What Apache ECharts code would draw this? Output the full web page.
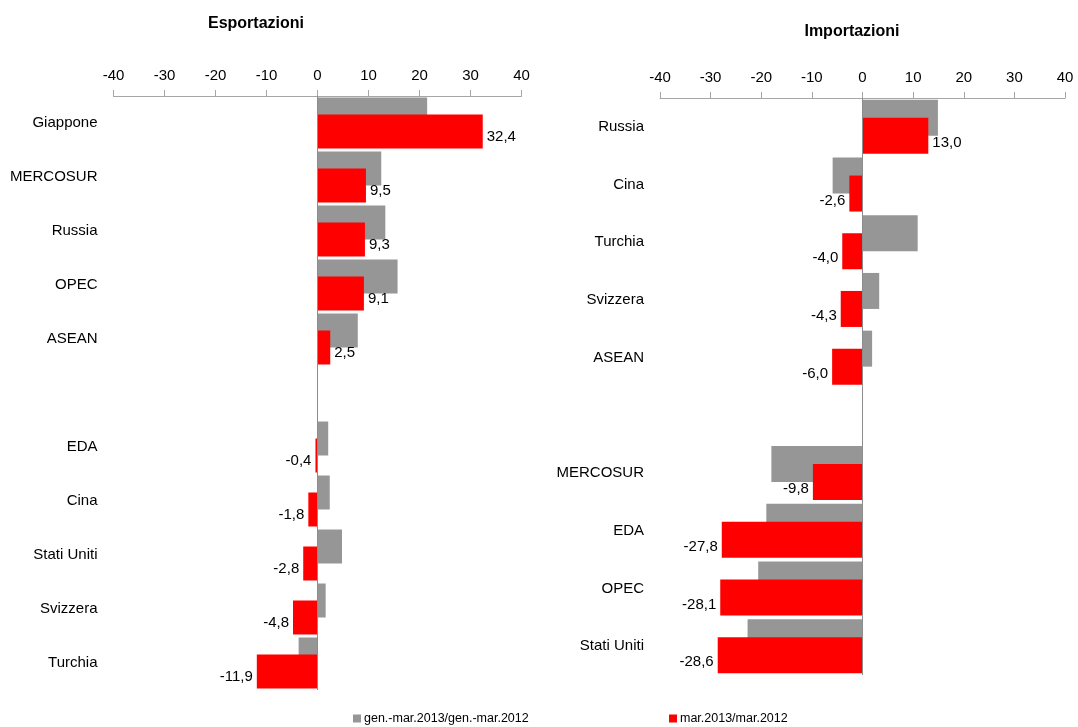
<!DOCTYPE html>
<html>
<head>
<meta charset="utf-8">
<script src="https://cdn.jsdelivr.net/npm/echarts@6/dist/echarts.min.js"></script>
<style>
html, body { margin: 0; padding: 0; background: #fff; }
#chart { width: 1078px; height: 727px; }
</style>
</head>
<body>
<div id="chart"></div>
<script>
// categorie (stringa vuota = spazio tra i due gruppi)
var expCategories = ['Giappone', 'MERCOSUR', 'Russia', 'OPEC', 'ASEAN', '', 'EDA', 'Cina', 'Stati Uniti', 'Svizzera', 'Turchia'];
var impCategories = ['Russia', 'Cina', 'Turchia', 'Svizzera', 'ASEAN', '', 'MERCOSUR', 'EDA', 'OPEC', 'Stati Uniti'];

// gen.-mar.2013/gen.-mar.2012 (grigio)
var expYear = [21.5, 12.5, 13.3, 15.7, 7.9, null, 2.1, 2.4, 4.8, 1.6, -3.7];
var impYear = [14.9, -5.9, 10.9, 3.3, 1.9, null, -18.0, -19.0, -20.6, -22.7];

// mar.2013/mar.2012 (rosso)
var expMonth = [32.4, 9.5, 9.3, 9.1, 2.5, null, -0.4, -1.8, -2.8, -4.8, -11.9];
var impMonth = [13.0, -2.6, -4.0, -4.3, -6.0, null, -9.8, -27.8, -28.1, -28.6];

var xTicks = [-40, 40, 10]; // min, max, passo

var nameYear = 'gen.-mar.2013/gen.-mar.2012';
var nameMonth = 'mar.2013/mar.2012';

var FONT = "'Liberation Sans', Arial, sans-serif";

var chart = echarts.init(document.getElementById('chart'));

function fmt(v) {
    return v.toFixed(1).replace('.', ',');
}

function redData(arr, dy) {
    return arr.map(function (v) {
        if (v === null) return '-';
        return {
            value: v,
            label: {
                position: v < 0 ? 'left' : 'right',
                offset: [0, dy]
            }
        };
    });
}

function xAxisCfg(gridIndex) {
    return {
        type: 'value',
        gridIndex: gridIndex,
        position: 'top',
        min: xTicks[0],
        max: xTicks[1],
        interval: xTicks[2],
        axisLine: { show: true, onZero: false, lineStyle: { color: '#a6a6a6', width: 1 } },
        axisTick: { show: true, length: 6, lineStyle: { color: '#a6a6a6' } },
        splitLine: { show: false },
        axisLabel: { color: '#000', fontSize: 15, fontFamily: FONT, margin: 13 }
    };
}

function yAxisCfg(gridIndex, cats) {
    return {
        type: 'category',
        gridIndex: gridIndex,
        data: cats,
        inverse: true,
        axisLine: { show: false },
        axisTick: { show: false },
        splitLine: { show: false },
        axisLabel: { color: '#000', fontSize: 15, fontFamily: FONT, margin: 16 }
    };
}

function greySeries(idx, data, bw) {
    return {
        name: nameYear,
        type: 'bar',
        xAxisIndex: idx,
        yAxisIndex: idx,
        data: data.map(function (v) { return v === null ? '-' : v; }),
        barWidth: bw,
        barGap: '-50%',
        itemStyle: { color: '#969696' },
        silent: true
    };
}

function redSeries(idx, data, bw, dy) {
    return {
        name: nameMonth,
        type: 'bar',
        xAxisIndex: idx,
        yAxisIndex: idx,
        data: redData(data, dy),
        barWidth: bw,
        barGap: '-50%',
        itemStyle: { color: '#ff0000' },
        silent: true,
        label: {
            show: true,
            color: '#000',
            fontSize: 15,
            fontFamily: FONT,
            distance: 4,
            formatter: function (p) { return fmt(p.value); }
        },
        markLine: {
            silent: true,
            symbol: 'none',
            label: { show: false },
            lineStyle: { color: '#8c8c8c', width: 1, type: 'solid' },
            data: [{ xAxis: 0 }]
        }
    };
}

chart.setOption({
    animation: false,
    backgroundColor: '#fff',
    title: [{
        text: 'Esportazioni',
        left: 251,
        top: 11,
        textAlign: 'center',
        textStyle: { fontSize: 16, fontWeight: 'bold', color: '#000', fontFamily: FONT }
    }, {
        text: 'Importazioni',
        left: 847,
        top: 19,
        textAlign: 'center',
        textStyle: { fontSize: 16, fontWeight: 'bold', color: '#000', fontFamily: FONT }
    }],
    legend: [{
        data: [nameYear],
        left: 348,
        top: 707,
        icon: 'rect',
        itemWidth: 8,
        itemHeight: 8,
        selectedMode: false,
        textStyle: { fontSize: 12.5, color: '#000', fontFamily: FONT, padding: [0, 0, 0, -2] }
    }, {
        data: [nameMonth],
        left: 664,
        top: 707,
        icon: 'rect',
        itemWidth: 8,
        itemHeight: 8,
        selectedMode: false,
        textStyle: { fontSize: 12.5, color: '#000', fontFamily: FONT, padding: [0, 0, 0, -2] }
    }],
    grid: [{
        left: 113.5,
        width: 408,
        top: 96,
        height: 594,
        outerBoundsMode: 'none'
    }, {
        left: 660,
        width: 405,
        top: 98,
        height: 577,
        outerBoundsMode: 'none'
    }],
    xAxis: [xAxisCfg(0), xAxisCfg(1)],
    yAxis: [yAxisCfg(0, expCategories), yAxisCfg(1, impCategories)],
    series: [
        greySeries(0, expYear, 34),
        redSeries(0, expMonth, 34, 5),
        greySeries(1, impYear, 36),
        redSeries(1, impMonth, 36, 7)
    ]
});
</script>
</body>
</html>
